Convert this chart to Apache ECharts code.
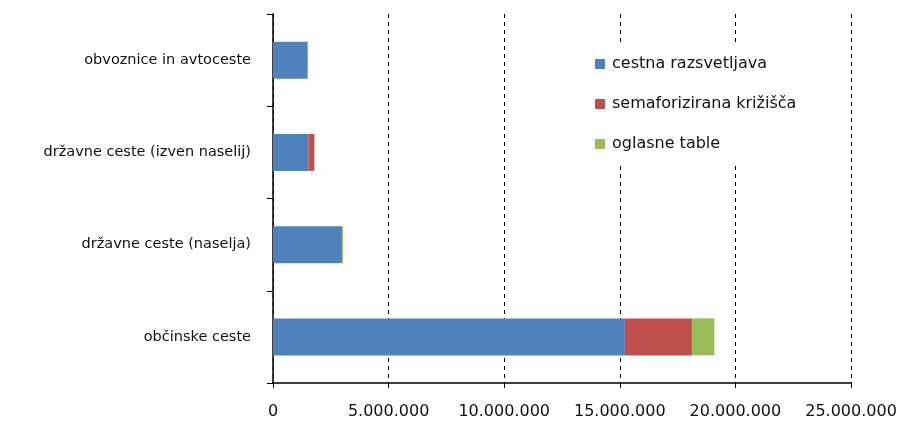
<!DOCTYPE html>
<html><head><meta charset="utf-8">
<script src="https://cdn.jsdelivr.net/npm/echarts@6/dist/echarts.min.js"></script>
<style>html,body{margin:0;padding:0;background:#fff}#c{width:904px;height:425px}</style>
</head><body><div id="c"></div>
<script>
const categories = ['občinske ceste', 'državne ceste (naselja)', 'državne ceste (izven naselij)', 'obvoznice in avtoceste'];
const seriesNames = ['cestna razsvetljava', 'semaforizirana križišča', 'oglasne table'];
const razsvetljava = [15220000, 2980000, 1530000, 1500000];
const semaforji = [2900000, 0, 260000, 0];
const oglasne = [970000, 50000, 0, 0];
const colors = ['#4F81BD', '#C0504D', '#9BBB59'];
const FONT = 'DejaVu Sans';
function fmt(v){ return String(v).replace(/\B(?=(\d{3})+(?!\d))/g, '.'); }
const chart = echarts.init(document.getElementById('c'), null, {renderer:'canvas'});
const data = [razsvetljava, semaforji, oglasne];
chart.setOption({
  animation:false,
  color: colors,
  grid:{left:273, right:53, top:14, bottom:42, containLabel:false},
  legend:{
    orient:'vertical', left:590, top:45, itemWidth:10, itemHeight:10, itemGap:24,
    icon:'rect', backgroundColor:'#fff', padding:[11,10,14,5],
    textStyle:{fontFamily:FONT, fontSize:16, color:'#111', padding:[0,0,0,2]},
    data: seriesNames
  },
  xAxis:{
    type:'value', min:0, max:25000000, interval:5000000,
    axisLine:{show:true, lineStyle:{color:'#000', width:1.5}},
    axisTick:{show:true, length:5, lineStyle:{color:'#000'}},
    splitLine:{show:true, lineStyle:{color:'#000', type:[4,4], width:1}},
    axisLabel:{fontFamily:FONT, fontSize:16, color:'#111', margin:21, formatter:fmt}
  },
  yAxis:{
    type:'category', data:categories,
    axisLine:{show:true, lineStyle:{color:'#000', width:1.5}},
    axisTick:{show:true, length:6, lineStyle:{color:'#000'}},
    axisLabel:{fontFamily:FONT, fontSize:14.5, color:'#111', margin:22, padding:[4,0,0,0]}
  },
  series: seriesNames.map((n,i)=>({
    name:n, type:'bar', stack:'total', barWidth:37,
    data:data[i],
    itemStyle:{color:colors[i]}
  }))
});
</script></body></html>
